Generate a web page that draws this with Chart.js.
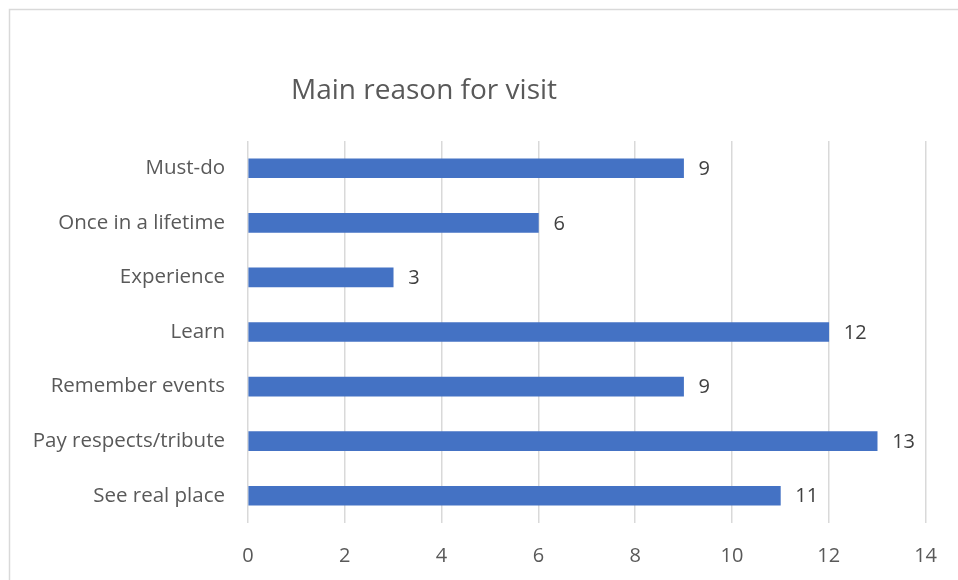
<!DOCTYPE html>
<html>
<head>
<meta charset="utf-8">
<script src="https://cdn.jsdelivr.net/npm/chart.js@4/dist/chart.umd.min.js"></script>
<style>
  html, body { margin: 0; padding: 0; background: #fff; }
  #wrap { width: 958px; height: 580px; position: relative; }
</style>
</head>
<body>
<div id="wrap"><canvas id="c" width="958" height="580"></canvas></div>
<script>
const categories = ["Must-do", "Once in a lifetime", "Experience", "Learn", "Remember events", "Pay respects/tribute", "See real place"];
const counts = [9, 6, 3, 12, 9, 13, 11];
const xTicks = [0, 2, 4, 6, 8, 10, 12, 14];
const chartTitle = "Main reason for visit";

const FONT = "'Open Sans', 'Liberation Sans', sans-serif";

// Frame around the chart area and the title text
const framePlugin = {
  id: 'frame',
  beforeDraw(chart) {
    const ctx = chart.ctx;
    ctx.save();
    ctx.fillStyle = '#ffffff';
    ctx.fillRect(0, 0, chart.width, chart.height);
    ctx.strokeStyle = '#d9d9d9';
    ctx.lineWidth = 1.5;
    ctx.strokeRect(9.5, 9.5, chart.width + 20, chart.height + 20);
    ctx.restore();
  },
  afterDraw(chart) {
    const ctx = chart.ctx;
    ctx.save();
    ctx.fillStyle = '#595959';
    ctx.font = "28px " + FONT;
    ctx.textAlign = 'center';
    ctx.textBaseline = 'middle';
    ctx.fillText(chartTitle, 424, 91);
    ctx.restore();
  }
};

// Value labels at the end of each bar
const valueLabels = {
  id: 'valueLabels',
  afterDatasetsDraw(chart) {
    const ctx = chart.ctx;
    const meta = chart.getDatasetMeta(0);
    ctx.save();
    ctx.fillStyle = '#404040';
    ctx.font = "20px " + FONT;
    ctx.textAlign = 'left';
    ctx.textBaseline = 'middle';
    meta.data.forEach((bar, i) => {
      ctx.fillText(String(counts[i]), bar.x + 15, bar.y + 1);
    });
    ctx.restore();
  }
};

new Chart(document.getElementById('c'), {
  type: 'bar',
  data: {
    labels: categories,
    datasets: [{
      data: counts,
      backgroundColor: '#4472c4',
      borderWidth: 0,
      barThickness: 19
    }]
  },
  options: {
    indexAxis: 'y',
    responsive: false,
    animation: false,
    layout: { padding: { top: 141, right: 30, left: 0, bottom: 0 } },
    plugins: {
      legend: { display: false },
      title: { display: false },
      tooltip: { enabled: false }
    },
    scales: {
      x: {
        min: 0,
        max: 14,
        afterBuildTicks(scale) { scale.ticks = xTicks.map(v => ({ value: v })); },
        afterFit(scale) { scale.height = 57; },
        grid: { color: '#d9d9d9', lineWidth: 1.5, drawTicks: false },
        border: { display: false },
        ticks: { color: '#595959', font: { family: FONT, size: 20 }, padding: 21 }
      },
      y: {
        afterFit(scale) { scale.width = 248; },
        grid: { display: false, drawTicks: false },
        border: { display: false },
        ticks: { color: '#595959', font: { family: FONT, size: 20.5 }, padding: 23 }
      }
    }
  },
  plugins: [framePlugin, valueLabels]
});
</script>
</body>
</html>
